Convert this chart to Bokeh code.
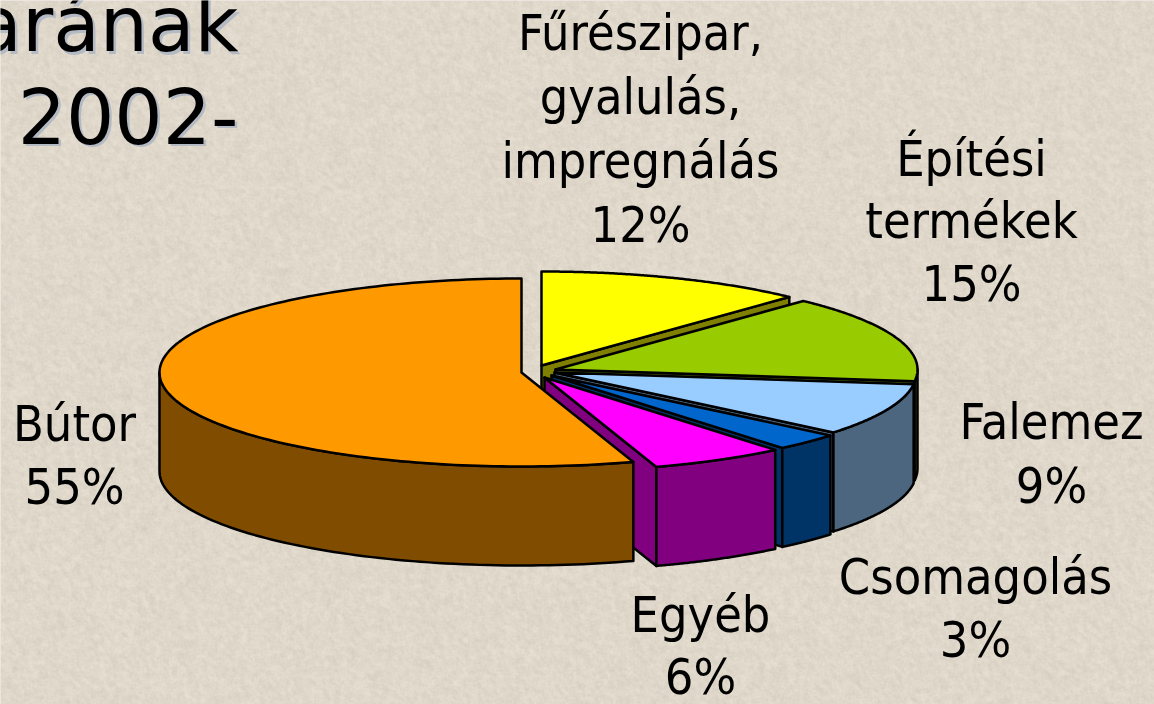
import numpy as np
from bokeh.plotting import figure
from bokeh.embed import file_html
from bokeh.resources import INLINE
from bokeh.core.properties import value

# ---- data ----
categories = ["Fűrészipar, gyalulás, impregnálás", "Építési termékek", "Falemez", "Csomagolás", "Egyéb", "Bútor"]
shares = [12, 15, 9, 3, 6, 55]
share_labels = ["12%", "15%", "9%", "3%", "6%", "55%"]
title_lines = ["arának", "2002-"]

# ---- style / layout ----
top_colors = ["#FFFF00", "#99CC00", "#99CCFF", "#0066CC", "#FF00FF", "#FF9900"]
wall_colors = ["#808000", "#4D6600", "#4D667F", "#003366", "#800080", "#804C00"]
centers = [(541, 365), (555, 369), (554, 372), (551, 375), (544, 377), (521, 372)]
RX, RY, DEPTH = 362, 94, 99
label_layout = [
    (640, [52, 116, 180, 244], ["Fűrészipar,", "gyalulás,", "impregnálás"]),
    (971, [178, 240, 303], ["Építési", "termékek"]),
    (1051, [441, 505], ["Falemez"]),
    (975, [596, 659], ["Csomagolás"]),
    (700, [634, 696], ["Egyéb"]),
    (74, [443, 506], ["Bútor"]),
]
LABEL_SHIFT, TITLE_SHIFT = 20, 28   # baseline correction of the text glyph
BG = "#DFD8CB"

W, H = 1154, 704
p = figure(width=W, height=H, x_range=(0, W), y_range=(H, 0), output_backend="svg",
           toolbar_location=None, min_border=0, background_fill_color=BG,
           border_fill_color=BG, outline_line_color=None)
p.axis.visible = False
p.grid.visible = False
p.styles = {"position": "absolute", "left": "0px", "top": "0px"}

# deterministic mottled paper texture
yy, xx = np.mgrid[0:H, 0:W]
h = np.modf(np.abs(np.sin(xx * 12.9898 + yy * 78.233)) * 43758.5453)[0]
def box(a, k):
    c = a
    for ax in (0, 1):
        c = sum(np.roll(c, i, axis=ax) for i in range(k)) / k
    return c
tex = box(h, 2) * 1.0 + box(h, 5) * 1.5
tex = tex - tex.mean()
tex = np.clip(tex / tex.std() * 3.5, -14, 7)
img = np.zeros((H, W), dtype=np.uint32)
view = img.view(dtype=np.uint8).reshape((H, W, 4))
for i, c in enumerate((0xDF, 0xD8, 0xCB)):
    view[:, :, i] = np.clip(c + tex, 0, 255).astype(np.uint8)
view[:, :, 3] = 255
p.image_rgba(image=[img], x=0, y=0, dw=W, dh=H)

# ---- pie: angles clockwise from 12 o'clock ----
cum = np.cumsum([0] + shares) / sum(shares) * 2 * np.pi
LW = 2.5

def rim(c, a0, a1, n=80):
    t = np.linspace(a0, a1, n)
    return c[0] + RX * np.sin(t), c[1] - RY * np.cos(t)

for i in range(len(shares)):
    c, a0, a1 = centers[i], cum[i], cum[i + 1]
    kw = dict(line_color="black", line_width=LW, line_join="round")
    # radial end wall, visible except on the largest slice
    if i < 5:
        rx = c[0] + RX * np.sin(a1)
        ry = c[1] - RY * np.cos(a1)
        p.patch([c[0], rx, rx, c[0]], [c[1], ry, ry + DEPTH, c[1] + DEPTH],
                fill_color=wall_colors[i], **kw)
    # outer wall: front half of the rim
    w0, w1 = max(a0, np.pi / 2), min(a1, 3 * np.pi / 2)
    if w0 < w1:
        x, y = rim(c, w0, w1)
        p.patch(np.r_[x, x[::-1]], np.r_[y, y[::-1] + DEPTH], fill_color=wall_colors[i], **kw)
    # top face
    x, y = rim(c, a0, a1, 160)
    p.patch(np.r_[c[0], x], np.r_[c[1], y], fill_color=top_colors[i], **kw)

# ---- labels ----
xs, ys, txt = [], [], []
for (cx, base, lines), pct in zip(label_layout, share_labels):
    for line, by in zip(lines + [pct], base):
        xs.append(cx); ys.append(by - LABEL_SHIFT); txt.append(line)
p.text(xs, ys, text=txt, text_font=value("DejaVu Sans Condensed"), text_font_size="50px",
       text_align="center", text_baseline="alphabetic", text_color="black")

# ---- cropped title ----
tx, ty = [238, 238], [52 - TITLE_SHIFT, 143 - TITLE_SHIFT]
for dx, dy, col in ((2.5, 2.5, "#B4BAC4"), (0, 0, "black")):
    p.text([v + dx for v in tx], [v + dy for v in ty], text=title_lines,
           text_font=value("DejaVu Sans"), text_font_size="76px",
           text_align="right", text_baseline="alphabetic", text_color=col)

open("out.html", "w").write(file_html(p, INLINE))
